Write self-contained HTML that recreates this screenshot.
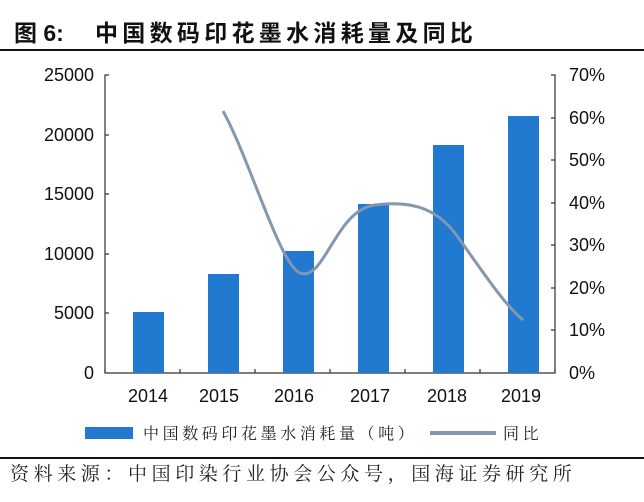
<!DOCTYPE html>
<html><head><meta charset="utf-8"><style>
body{margin:0;background:#fff;width:644px;height:497px;overflow:hidden}
svg text{font-family:"Liberation Sans","Noto Sans CJK SC",sans-serif}
svg text.s{font-family:"Liberation Serif","Noto Serif CJK SC",serif}
</style></head><body>
<svg width="644" height="497" viewBox="0 0 644 497">
<text x="14" y="41" font-size="23" font-weight="bold" fill="#111">图 6:</text>
<text x="95" y="41" font-size="23" font-weight="bold" fill="#111" letter-spacing="4.3">中国数码印花墨水消耗量及同比</text>
<rect x="0" y="49" width="644" height="2" fill="#111"/>
<g fill="#111" font-size="18" text-anchor="end">
<text x="94" y="81">25000</text><text x="94" y="141">20000</text><text x="94" y="200">15000</text>
<text x="94" y="260">10000</text><text x="94" y="319">5000</text><text x="94" y="379">0</text>
</g>
<g fill="#111" font-size="18" text-anchor="start">
<text x="569" y="81">70%</text><text x="569" y="124">60%</text><text x="569" y="166">50%</text>
<text x="569" y="209">40%</text><text x="569" y="251">30%</text><text x="569" y="294">20%</text>
<text x="569" y="336">10%</text><text x="569" y="379">0%</text>
</g>
<g stroke="#333" stroke-width="1.2" fill="none">
<path d="M109,75 H105 V373 H555 V75 H551"/>
<path d="M105,373v-4M180,373v-4M255,373v-4M330,373v-4M405,373v-4M480,373v-4M555,373v-4"/>
<path d="M105,135h4M105,194h4M105,254h4M105,313h4"/>
<path d="M555,118h-4M555,160h-4M555,203h-4M555,245h-4M555,288h-4M555,330h-4"/>
</g>
<g fill="#2179d0">
<rect x="133" y="312" width="31" height="61"/>
<rect x="208" y="274" width="31" height="99"/>
<rect x="283" y="251" width="31" height="122"/>
<rect x="358" y="204" width="31" height="169"/>
<rect x="433" y="145" width="31" height="228"/>
<rect x="508" y="116" width="31" height="257"/>
</g>
<path d="M223,111 C250,160 280,265 300,273 C325,282 335,210 375,205 C415,200 440,210 460,240 C485,275 505,305 523,320" stroke="#8497b0" stroke-width="3" fill="none"/>
<g fill="#111" font-size="18" text-anchor="middle">
<text x="148" y="402">2014</text><text x="219" y="402">2015</text><text x="294" y="402">2016</text>
<text x="370" y="402">2017</text><text x="447" y="402">2018</text><text x="521" y="402">2019</text>
</g>
<rect x="85" y="427" width="48" height="12" fill="#2179d0"/>
<text class="s" x="143" y="439" font-size="16" fill="#222" letter-spacing="3.6">中国数码印花墨水消耗量（吨）</text>
<rect x="430" y="431" width="66" height="4" fill="#8497b0"/>
<text class="s" x="503" y="439" font-size="16" fill="#222" letter-spacing="3.6">同比</text>
<rect x="0" y="457" width="644" height="2" fill="#111"/>
<text class="s" x="10" y="480" font-size="19" fill="#222" letter-spacing="4.6">资料来源：中国印染行业协会公众号，国海证券研究所</text>
</svg>
</body></html>
